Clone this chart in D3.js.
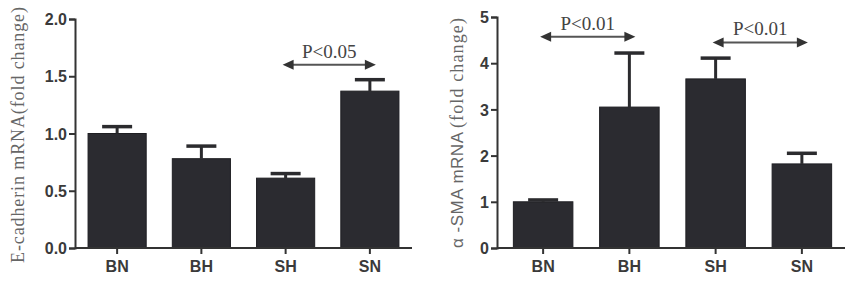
<!DOCTYPE html>
<html>
<head>
<meta charset="utf-8">
<script src="https://cdn.jsdelivr.net/npm/d3@7"></script>
<style>
  html, body { margin: 0; padding: 0; background: #fff; }
  svg { display: block; }
</style>
</head>
<body>
<svg id="chart" width="850" height="284"></svg>
<script>
// ---- data ----
const categories = ["BN", "BH", "SH", "SN"];

const ecadMeans = [1.00, 0.78, 0.61, 1.37];
const ecadErrors = [0.06, 0.11, 0.04, 0.10];
const ecadTicks = [0.0, 0.5, 1.0, 1.5, 2.0];
const ecadSig = [{ from: "SH", to: "SN", level: 1.60, label: "P<0.05" }];

const smaMeans = [1.00, 3.05, 3.66, 1.82];
const smaErrors = [0.04, 1.17, 0.45, 0.23];
const smaTicks = [0, 1, 2, 3, 4, 5];
const smaSig = [
  { from: "BN", to: "BH", level: 4.57, label: "P<0.01" },
  { from: "SH", to: "SN", level: 4.45, label: "P<0.01" }
];

// ---- drawing ----
const svg = d3.select("#chart");
const barFill = "#2b2b30";
const inkDark = "#333";
const sansBold = "Liberation Sans, Arimo, Arial, Helvetica, DejaVu Sans, sans-serif";
const serif = "Liberation Serif, Tinos, Times New Roman, DejaVu Serif, serif";

function panel(opts) {
  const g = svg.append("g");
  const y = d3.scaleLinear().domain(opts.domain).range([opts.y0, opts.y1]);
  const x = d3.scaleBand().domain(categories).range([opts.bandStart, opts.bandEnd])
    .paddingInner(0.31).paddingOuter(0.155);
  const bw = x.bandwidth();

  // bars
  g.selectAll("rect.bar").data(opts.means).enter().append("rect")
    .attr("x", (d, i) => x(categories[i]))
    .attr("y", d => y(d))
    .attr("width", bw)
    .attr("height", d => y(0) - y(d))
    .attr("fill", barFill)
    .attr("stroke", "#1e1e22").attr("stroke-width", 1);

  // error bars
  const capW = 30;
  opts.means.forEach((m, i) => {
    const cx = x(categories[i]) + bw / 2;
    const top = y(m + opts.errors[i]);
    g.append("line").attr("x1", cx).attr("x2", cx).attr("y1", y(m)).attr("y2", top)
      .attr("stroke", "#2b2b2e").attr("stroke-width", 3);
    g.append("line").attr("x1", cx - capW / 2).attr("x2", cx + capW / 2).attr("y1", top).attr("y2", top)
      .attr("stroke", "#2b2b2e").attr("stroke-width", 3.5);
  });

  // y axis
  const yAxis = d3.axisLeft(y).tickValues(opts.ticks).tickFormat(opts.fmt).tickSizeOuter(0).tickSize(6).tickPadding(2);
  const ya = g.append("g").attr("transform", `translate(${opts.axisX},0)`).call(yAxis);
  ya.select(".domain").attr("stroke", inkDark).attr("stroke-width", 2);
  ya.selectAll(".tick line").attr("stroke", inkDark).attr("stroke-width", 2);
  ya.selectAll(".tick text").style("font-family", sansBold).attr("font-weight", "bold")
    .attr("font-size", 16).attr("fill", "#3a3a3a").attr("dy", "0.35em");

  // x axis
  const xAxis = d3.axisBottom(x).tickSize(6).tickSizeOuter(0).tickPadding(4);
  const xa = g.append("g").attr("transform", `translate(0,${y(0)})`).call(xAxis);
  xa.select(".domain").remove();
  g.append("line").attr("x1", opts.axisX).attr("x2", opts.bandEnd)
    .attr("y1", y(0)).attr("y2", y(0)).attr("stroke", inkDark).attr("stroke-width", 2);
  xa.selectAll(".tick line").attr("stroke", inkDark).attr("stroke-width", 2);
  xa.selectAll(".tick text").style("font-family", sansBold).attr("font-weight", "bold")
    .attr("font-size", 16).attr("fill", "#3a3a3a").attr("dy", "0.9em");

  // significance arrows
  opts.sig.forEach(s => {
    const xa1 = x(s.from) + bw / 2 - 3;
    const xa2 = x(s.to) + bw / 2 + 6;
    const yy = y(s.level);
    const ah = 11, hw = 5;
    g.append("line").attr("x1", xa1 + ah - 1).attr("x2", xa2 - ah + 1).attr("y1", yy).attr("y2", yy)
      .attr("stroke", "#555").attr("stroke-width", 2);
    g.append("path").attr("d", `M${xa1},${yy} L${xa1 + ah},${yy - hw} L${xa1 + ah},${yy + hw} Z`).attr("fill", "#333");
    g.append("path").attr("d", `M${xa2},${yy} L${xa2 - ah},${yy - hw} L${xa2 - ah},${yy + hw} Z`).attr("fill", "#333");
    g.append("text").attr("x", (xa1 + xa2) / 2).attr("y", yy - 7)
      .attr("text-anchor", "middle").style("font-family", serif).attr("font-size", 19)
      .attr("fill", "#444").text(s.label);
  });
  return g;
}

panel({
  domain: [0, 2], y0: 248, y1: 19, axisX: 75, bandStart: 75, bandEnd: 412,
  means: ecadMeans, errors: ecadErrors, ticks: ecadTicks, fmt: d3.format(".1f"), sig: ecadSig
});

panel({
  domain: [0, 5], y0: 248, y1: 17, axisX: 497, bandStart: 500, bandEnd: 845,
  means: smaMeans, errors: smaErrors, ticks: smaTicks, fmt: d3.format("d"), sig: smaSig
});

// axis titles
svg.append("text")
  .attr("transform", "translate(24,135) rotate(-90)")
  .attr("text-anchor", "middle")
  .style("font-family", serif).attr("font-size", 18).attr("fill", "#666")
  .attr("textLength", 256).attr("lengthAdjust", "spacing")
  .text("E-cadherin mRNA(fold change)");

svg.append("text")
  .attr("transform", "translate(463,190) rotate(-90)")
  .attr("text-anchor", "middle")
  .style("font-family", sansBold).attr("font-size", 17).attr("fill", "#666")
  .attr("textLength", 116).attr("lengthAdjust", "spacing")
  .text("α -SMA mRNA");

svg.append("text")
  .attr("transform", "translate(463,73) rotate(-90)")
  .attr("text-anchor", "middle")
  .style("font-family", serif).attr("font-size", 18).attr("fill", "#666")
  .attr("textLength", 110).attr("lengthAdjust", "spacing")
  .text("(fold change)");
</script>
</body>
</html>
